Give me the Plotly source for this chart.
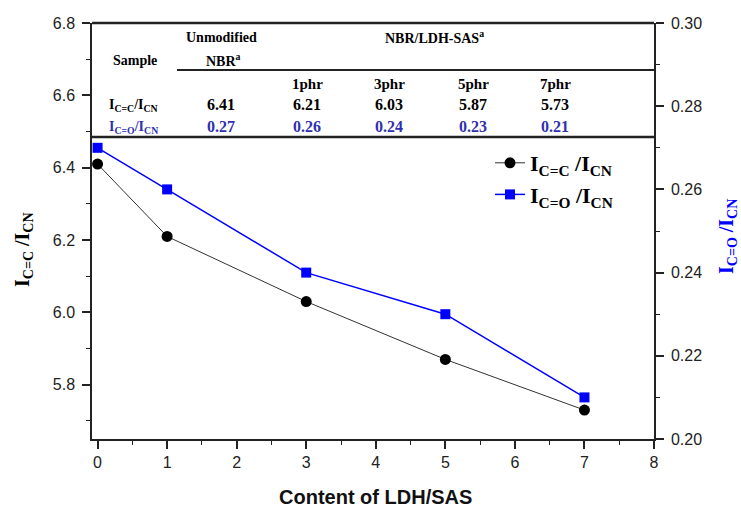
import plotly.graph_objects as go

# Ratio data versus LDH/SAS loading (phr)
content = [0, 1, 3, 5, 7]
i_cc = [6.41, 6.21, 6.03, 5.87, 5.73]
i_co = [0.27, 0.26, 0.24, 0.23, 0.21]
phr_labels = ["1phr", "3phr", "5phr", "7phr"]

W, H = 741, 509
L, R, T, B = 92, 654, 23, 439


def px(x):
    return (x - L) / (R - L)


def py(y):
    return (B - y) / (B - T)


SERIF = "Liberation Serif"
SANS = "Liberation Sans"
BLUE = "#0000ff"
TBL_BLUE = "#3030b0"

fig = go.Figure()
fig.add_trace(go.Scatter(
    x=content, y=i_cc, mode="lines+markers", yaxis="y",
    name="<b>I<sub>C=C</sub> /I<sub>CN</sub></b>", legendgroup="a",
    line=dict(color="#333333", width=1),
    marker=dict(symbol="circle", size=11, color="black"),
))
fig.add_trace(go.Scatter(
    x=content, y=i_co, mode="lines+markers", yaxis="y2",
    name="<b>I<sub>C=O</sub> /I<sub>CN</sub></b>", legendgroup="b",
    line=dict(color=BLUE, width=1.5),
    marker=dict(symbol="square", size=10, color=BLUE),
))

tick_font = dict(family=SANS, size=16, color="#222222")
fig.update_layout(
    width=W, height=H,
    margin=dict(l=L, r=W - R, t=T, b=H - B),
    paper_bgcolor="white", plot_bgcolor="white",
    showlegend=True,
    legend=dict(
        x=px(490), y=py(142), xanchor="left", yanchor="top",
        font=dict(family=SERIF, size=22, color="black"),
        bgcolor="rgba(0,0,0,0)", itemwidth=30, tracegroupgap=0,
    ),
    xaxis=dict(
        range=[-0.08, 8], dtick=1, tick0=0,
        showline=True, linecolor="#222", linewidth=1.5,
        ticks="outside", ticklen=8, tickwidth=1.5, tickcolor="#222",
        minor=dict(dtick=0.5, ticks="outside", ticklen=4, tickcolor="#222", tickwidth=1.2),
        showgrid=False, zeroline=False, tickfont=tick_font,
    ),
    yaxis=dict(
        range=[5.65, 6.8], dtick=0.2, tick0=0, tickformat=".1f",
        showline=True, linecolor="#222", linewidth=1.5,
        ticks="outside", ticklen=8, tickwidth=1.5, tickcolor="#222",
        minor=dict(dtick=0.1, ticks="outside", ticklen=4, tickcolor="#222", tickwidth=1.2),
        showgrid=False, zeroline=False, tickfont=tick_font, ticklabelstandoff=4,
    ),
    yaxis2=dict(
        range=[0.20, 0.30], dtick=0.02, tick0=0, tickformat=".2f",
        overlaying="y", side="right",
        showline=True, linecolor="#222", linewidth=1.5,
        ticks="outside", ticklen=8, tickwidth=1.5, tickcolor="#222",
        minor=dict(dtick=0.01, ticks="outside", ticklen=4, tickcolor="#222", tickwidth=1.2),
        showgrid=False, zeroline=False, tickfont=tick_font, ticklabelstandoff=4,
    ),
)

# Table rules
rules = [(L, R, T, 2.5), (177, R, 70, 2), (L, R, 137, 2.5)]
for x0, x1, y, w in rules:
    fig.add_shape(type="line", xref="paper", yref="paper",
                  x0=px(x0), x1=px(x1), y0=py(y), y1=py(y),
                  line=dict(color="#222", width=w))


def note(text, x, y, size, color="black", family=SERIF, angle=0):
    fig.add_annotation(text=text, xref="paper", yref="paper",
                       x=px(x), y=py(y), xanchor="center", yanchor="middle",
                       showarrow=False, textangle=angle,
                       font=dict(family=family, size=size, color=color))


# Table header
note("<b>Sample</b>", 135, 60, 14)
note("<b>Unmodified</b>", 221, 38, 14)
note("<b>NBR<sup>a</sup></b>", 223, 60, 14)
note("<b>NBR/LDH-SAS<sup>a</sup></b>", 434, 37, 14)
col_x = [221, 307, 389, 473, 555]
for cx, lab in zip(col_x[1:], phr_labels):
    note(f"<b>{lab}</b>", cx, 84, 15)

# Table body
note("<b>I<sub>C=C</sub>/I<sub>CN</sub></b>", 133, 106, 14)
note("<b>I<sub>C=O</sub>/I<sub>CN</sub></b>", 133, 127, 14, TBL_BLUE)
for cx, v in zip(col_x, i_cc):
    note(f"<b>{v:.2f}</b>", cx, 105, 16)
for cx, v in zip(col_x, i_co):
    note(f"<b>{v:.2f}</b>", cx, 126, 16, TBL_BLUE)

# Axis titles
note("<b>I<sub>C=C</sub> /I<sub>CN</sub></b>", 24, 250, 20, angle=-90)
note("<b>I<sub>C=O</sub> /I<sub>CN</sub></b>", 728, 237, 20, BLUE, angle=-90)
note("<b>Content of LDH/SAS</b>", 375, 497, 20, "#111", SANS)

fig.write_html("out.html")
